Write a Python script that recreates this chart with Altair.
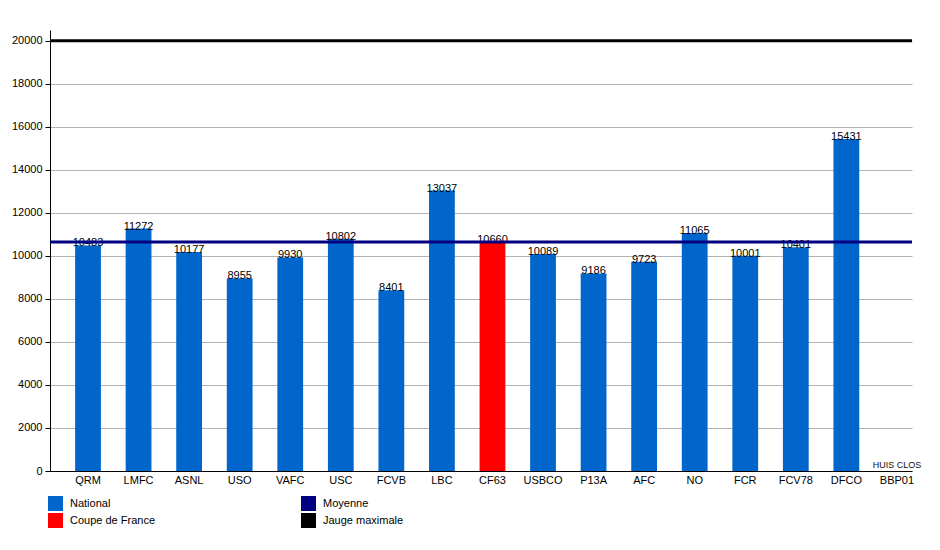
import altair as alt
import pandas as pd

clubs = ["QRM", "LMFC", "ASNL", "USO", "VAFC", "USC", "FCVB", "LBC", "CF63",
         "USBCO", "P13A", "AFC", "NO", "FCR", "FCV78", "DFCO", "BBP01"]
attendance = [10483, 11272, 10177, 8955, 9930, 10802, 8401, 13037, 10660,
              10089, 9186, 9723, 11065, 10001, 10401, 15431, None]
competition = ["National"] * 8 + ["Coupe de France"] + ["National"] * 8
notes = [""] * 16 + ["HUIS CLOS"]
mean_attendance = 10650
max_capacity = 20000
# legend order (filled row by row, 2 columns)
series = ["National", "Moyenne", "Coupe de France", "Jauge maximale"]
colors = ["#0066cc", "#000080", "#ff0000", "#000000"]
y_ticks = [0, 1000, 2000, 3000, 4000, 5000, 6000, 7000, 8000, 9000, 10000,
           11000, 12000, 13000, 14000, 15000, 16000, 17000, 18000, 19000, 20000]

df = pd.DataFrame({"club": clubs, "attendance": attendance,
                   "competition": competition, "note": notes,
                   "zero": [0] * len(clubs)})
lines = pd.DataFrame({"value": [mean_attendance, max_capacity],
                      "series": ["Moyenne", "Jauge maximale"]})

FONT = "Liberation Sans"

x_enc = alt.X("club:N", sort=None, title=None,
              scale=alt.Scale(domain=clubs, paddingInner=0.49, paddingOuter=0.27, align=0.92),
              axis=alt.Axis(labelAngle=0, ticks=False, labelFontSize=11, labelColor="#000",
                            labelPadding=3, domainColor="#000", grid=False))
y_scale = alt.Scale(domain=[0, 20500], nice=False)
color_scale = alt.Scale(domain=series, range=colors)

base = alt.Chart(df)

bars = base.mark_bar().encode(
    x=x_enc,
    y=alt.Y("attendance:Q", scale=y_scale, title=None,
            axis=alt.Axis(values=y_ticks, format="d",
                          labelExpr="datum.value % 2000 === 0 ? datum.label : ''",
                          tickSize=5, tickColor="#000", domainColor="#000",
                          labelFontSize=11, labelColor="#000", labelPadding=3,
                          gridColor="#b3b3b3",
                          gridOpacity={"condition": {"test": "datum.value % 2000 === 0", "value": 1}, "value": 0})),
    color=alt.Color("competition:N", scale=color_scale, title=None,
                    legend=alt.Legend(orient="none", legendX=-2, legendY=466, columns=2,
                                      direction="horizontal", symbolType="square",
                                      symbolSize=225, symbolStrokeWidth=0,
                                      labelFontSize=11, labelColor="#000", labelOffset=7,
                                      columnPadding=146, rowPadding=2, labelFont=FONT)),
)

labels = base.mark_text(baseline="alphabetic", dy=1, fontSize=11, color="#000", font=FONT).encode(
    x=alt.X("club:N", sort=None),
    y=alt.Y("attendance:Q"),
    text=alt.Text("attendance:Q", format="d"),
)

note_text = base.transform_filter("datum.note != ''").mark_text(
    baseline="alphabetic", dy=-3, fontSize=9, color="#111", font=FONT).encode(
    x=alt.X("club:N", sort=None),
    y=alt.Y("zero:Q"),
    text="note:N",
)

rules = alt.Chart(lines).mark_rule(size=3).encode(
    y=alt.Y("value:Q"),
    color=alt.Color("series:N", scale=color_scale, legend=None),
)

chart = alt.layer(bars, labels, note_text, rules).properties(
    width=862, height=441,
    autosize=alt.AutoSizeParams(type="none"),
    padding={"left": 42, "top": 22, "right": 20, "bottom": 72},
).configure(font=FONT).configure_view(stroke=None)

chart.save("out.html", embed_options={"renderer": "svg", "actions": False})
